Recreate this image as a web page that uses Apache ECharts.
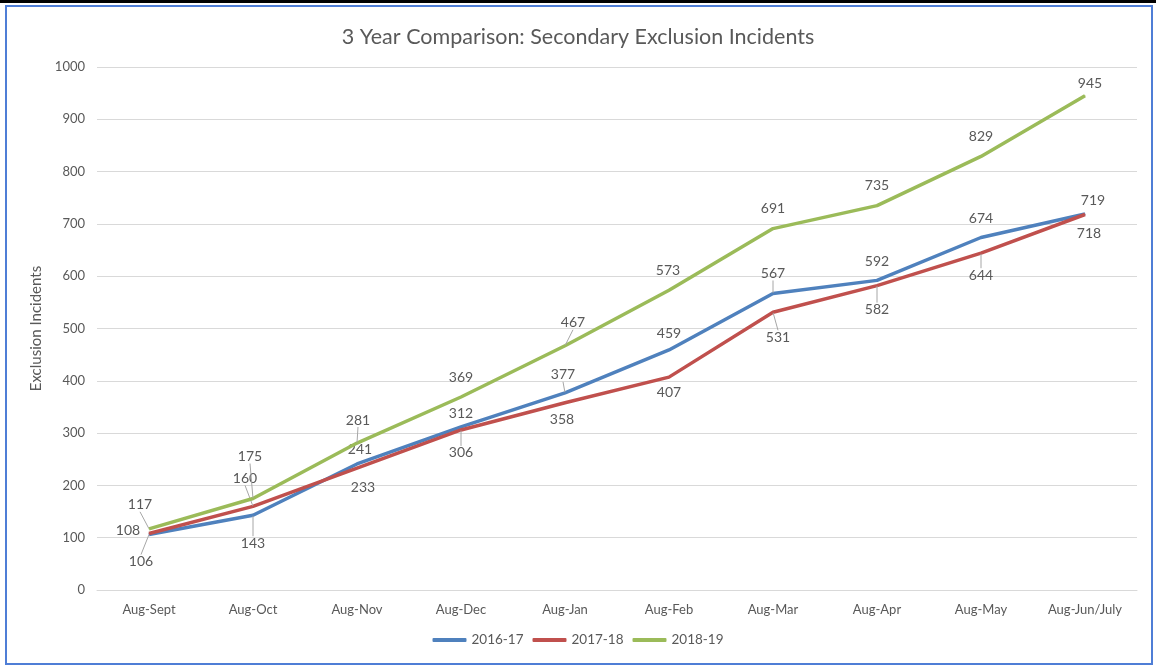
<!DOCTYPE html>
<html>
<head>
<meta charset="utf-8">
<script src="https://cdn.jsdelivr.net/npm/echarts@6/dist/echarts.min.js"></script>
<style>
  html, body { margin: 0; padding: 0; background: #fff; }
  #topbar { position: absolute; left: 0; top: 0; width: 1156px; height: 3px; background: #000; }
  #frame { position: absolute; left: 5px; top: 5px; width: 1144px; height: 656px; border: 2px solid #4f7ed6; }
  #chart { position: absolute; left: 0; top: 0; width: 1156px; height: 669px; }
</style>
</head>
<body>
<div id="topbar"></div>
<div id="frame"></div>
<div id="chart"></div>
<script>
// Cumulative exclusion incidents, August to month shown
const categories = ['Aug-Sept', 'Aug-Oct', 'Aug-Nov', 'Aug-Dec', 'Aug-Jan', 'Aug-Feb', 'Aug-Mar', 'Aug-Apr', 'Aug-May', 'Aug-Jun/July'];
const yearNames = ['2016-17', '2017-18', '2018-19'];
const values2016 = [106, 143, 241, 312, 377, 459, 567, 592, 674, 719];
const values2017 = [108, 160, 233, 306, 358, 407, 531, 582, 644, 718];
const values2018 = [117, 175, 281, 369, 467, 573, 691, 735, 829, 945];
const yTicks = [0, 100, 200, 300, 400, 500, 600, 700, 800, 900, 1000];

// Label placement (pixel shift of each label centre from its point)
const labelShift = [
  [[-8, 27], [0, 28], [3, -14], [0, -13], [-2, -18], [0, -16], [0, -20], [0, -19], [0, -19], [8, -13]],
  [[-21, -3], [-8, -28], [6, 19], [0, 23], [-3, 17], [0, 15], [5, 25], [0, 24], [0, 22], [4, 19]],
  [[-9, -24], [-3, -42], [1, -23], [0, -20], [8, -23], [-1, -20], [0, -20], [0, -20], [0, -20], [5, -12]]
];
// Which labels get a leader line back to their point
const leaderShown = [
  [1, 1, 0, 0, 1, 0, 1, 0, 0, 0],
  [0, 1, 0, 1, 0, 0, 1, 1, 1, 0],
  [1, 1, 1, 0, 1, 0, 0, 0, 0, 0]
];

const colors = ['#4f81bd', '#c0504d', '#9bbb59'];
const font = 'Lato, "Open Sans", sans-serif';
const textColor = '#595959';

function makeSeries(name, values, idx) {
  return {
    name: name,
    type: 'line',
    data: values.map(function (v, i) {
      return { value: v, labelLine: { show: !!leaderShown[idx][i] } };
    }),
    color: colors[idx],
    lineStyle: { width: 3.5, color: colors[idx] },
    symbol: 'circle',
    symbolSize: 1,
    showSymbol: true,
    itemStyle: { color: colors[idx] },
    emphasis: { disabled: true },
    label: {
      show: true,
      position: 'inside',
      color: textColor,
      fontFamily: font,
      fontSize: 14
    },
    labelLine: {
      show: false,
      lineStyle: { color: '#a6a6a6', width: 1 }
    },
    labelLayout: function (p) {
      const s = labelShift[idx][p.dataIndex];
      return { dx: s[0], dy: s[1] };
    },
    z: 2 + idx
  };
}

const chart = echarts.init(document.getElementById('chart'), null, { renderer: 'canvas' });
chart.setOption({
  animation: false,
  backgroundColor: 'transparent',
  title: {
    text: '3 Year Comparison: Secondary Exclusion Incidents',
    left: 'center',
    top: 21,
    textStyle: { color: textColor, fontFamily: font, fontSize: 21.5, fontWeight: 'normal' }
  },
  legend: {
    data: yearNames,
    bottom: 17,
    left: 'center',
    itemWidth: 34,
    itemHeight: 4,
    itemGap: 9,
    icon: 'roundRect',
    textStyle: { color: textColor, fontFamily: font, fontSize: 13.5 }
  },
  grid: { left: 97, right: 19, top: 67, bottom: 79 },
  xAxis: {
    type: 'category',
    data: categories,
    boundaryGap: true,
    axisLine: { show: true, lineStyle: { color: '#d9d9d9', width: 1 } },
    axisTick: { show: false },
    axisLabel: { color: textColor, fontFamily: font, fontSize: 13, margin: 13 }
  },
  yAxis: {
    type: 'value',
    min: yTicks[0],
    max: yTicks[yTicks.length - 1],
    interval: yTicks[1] - yTicks[0],
    name: 'Exclusion Incidents',
    nameLocation: 'middle',
    nameGap: 49,
    nameRotate: 90,
    nameTextStyle: { color: textColor, fontFamily: font, fontSize: 15 },
    axisLine: { show: false },
    axisTick: { show: false },
    axisLabel: { color: textColor, fontFamily: font, fontSize: 13, margin: 12, formatter: function (v) { return String(v); } },
    splitLine: { lineStyle: { color: '#d9d9d9', width: 1 } }
  },
  series: [
    makeSeries(yearNames[0], values2016, 0),
    makeSeries(yearNames[1], values2017, 1),
    makeSeries(yearNames[2], values2018, 2)
  ]
});
</script>
</body>
</html>
